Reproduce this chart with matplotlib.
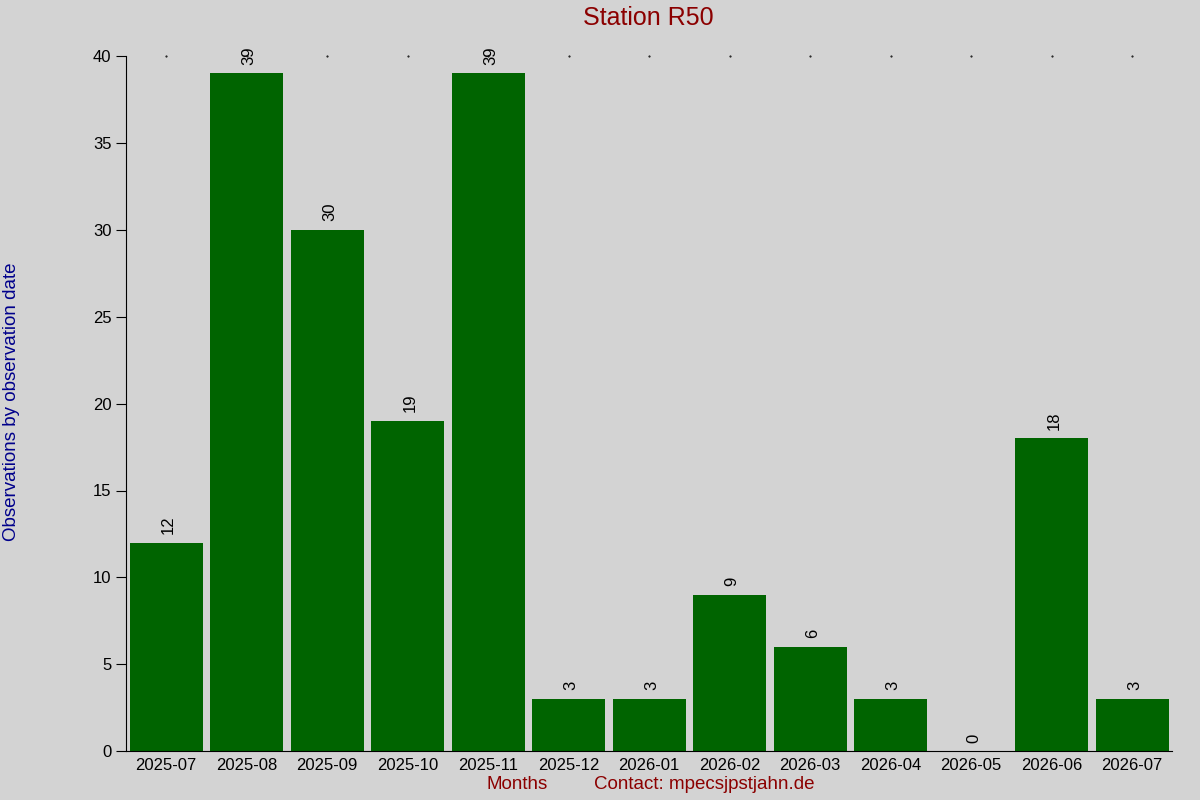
import numpy as np
import matplotlib.pyplot as plt

plt.rcParams['font.family'] = ['Liberation Sans', 'DejaVu Sans']

months = ['2025-07', '2025-08', '2025-09', '2025-10', '2025-11', '2025-12', '2026-01',
          '2026-02', '2026-03', '2026-04', '2026-05', '2026-06', '2026-07']
counts = [12, 39, 30, 19, 39, 3, 3, 9, 6, 3, 0, 18, 3]

fig = plt.figure(figsize=(12, 8), dpi=100, facecolor='#d3d3d3')
ax = fig.add_axes([0.105, 0.061, 0.872, 0.869])
ax.set_facecolor('#d3d3d3')

x = np.arange(len(months))
ax.bar(x, counts, width=0.91, color='#006400')
for xi, c in zip(x, counts):
    ax.text(xi + 0.03, c + 0.5, str(c), rotation=90, ha='center', va='bottom', fontsize=12)
# small dots on top
ax.scatter(x, [40] * len(x), s=1, c='black', marker='.', clip_on=False)

ax.set_xlim(-0.5, 12.5)
ax.set_ylim(0, 40)
ax.set_xticks(x)
ax.set_xticklabels(months, fontsize=12)
ax.tick_params(axis='x', length=0, pad=5)
ax.set_yticks(range(0, 41, 5))
ax.tick_params(axis='y', labelsize=12, length=7, direction='out')
for s in ['top', 'right']:
    ax.spines[s].set_visible(False)

fig.text(0.54, 0.977, 'Station R50', ha='center', va='center', fontsize=18, color='#8b0000')
fig.text(0.01, 0.4975, 'Observations by observation date', rotation=90, ha='center', va='center',
         fontsize=13.5, color='#00008b')
fig.text(0.431, 0.019, 'Months', ha='center', va='center', fontsize=13.5, color='#8b0000')
fig.text(0.587, 0.019, 'Contact: mpecsjpstjahn.de', ha='center', va='center', fontsize=13.5, color='#8b0000')

fig.savefig('out.png', dpi=100, facecolor='#d3d3d3')
